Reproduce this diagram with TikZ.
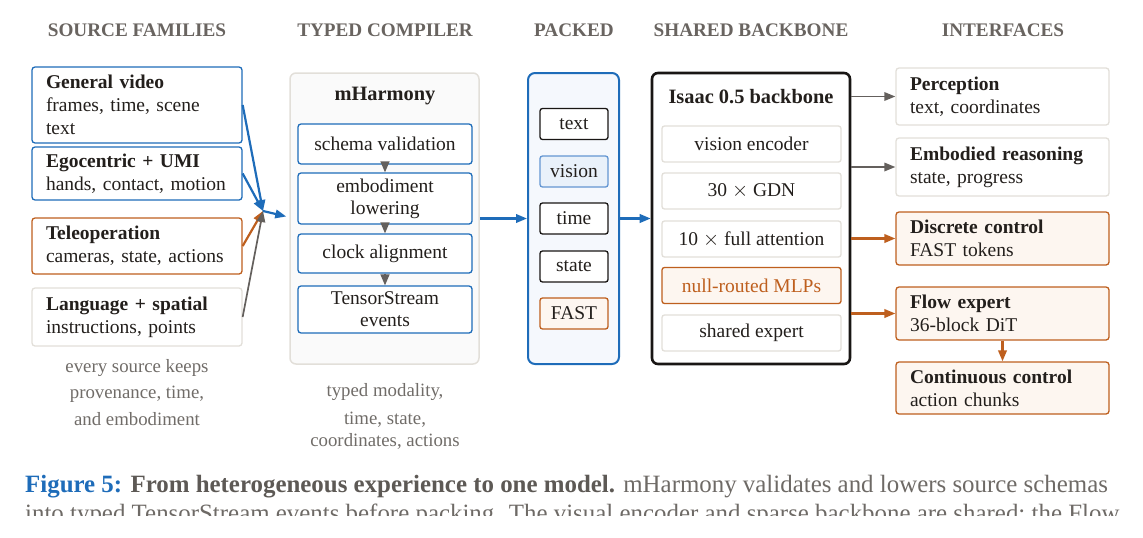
\documentclass[tikz,border=0pt]{standalone}
\usepackage{fontspec}
\setmainfont{Liberation Serif}
\usetikzlibrary{arrows.meta}

\definecolor{cblue}{RGB}{30,108,185}
\definecolor{corange}{RGB}{190,95,30}
\definecolor{carrow}{RGB}{100,96,93}
\definecolor{chead}{RGB}{105,100,96}
\definecolor{cnote}{RGB}{112,108,104}
\definecolor{clight}{RGB}{226,223,217}
\definecolor{ctext}{RGB}{35,31,28}
\definecolor{cofill}{RGB}{253,246,240}
\definecolor{cpfill}{RGB}{245,248,253}
\definecolor{cvfill}{RGB}{233,241,250}
\definecolor{cvdraw}{RGB}{100,150,210}
\definecolor{ccfill}{RGB}{250,250,250}
\definecolor{cblack}{RGB}{25,22,20}
\definecolor{ccapb}{RGB}{93,89,85}
\definecolor{ccap}{RGB}{110,106,102}

\newcommand\bxfont{\fontsize{19.5}{23}\selectfont}
\newcommand\ttlfont{\fontsize{20.4}{23}\selectfont\bfseries}
\newcommand\hdfont{\fontsize{19.2}{22}\selectfont\bfseries}
\newcommand\ntfont{\fontsize{18.8}{26.5}\selectfont}
\newcommand\capfont{\fontsize{24.9}{29}\selectfont}

\begin{document}
\begin{tikzpicture}[x=1pt,y=-1pt,
  box/.style={draw, rounded corners=3pt, line width=1.3pt, fill=white, inner sep=0pt, text=ctext, font=\bxfont},
  src/.style={box, text width=182pt, align=left, inner xsep=14pt},
  iface/.style={box, text width=185pt, align=left, inner xsep=14pt},
  comp/.style={box, draw=cblue, minimum width=174pt, align=center},
  tok/.style={box, minimum width=68pt, minimum height=31pt, rounded corners=2.5pt},
  bbl/.style={box, draw=clight, minimum width=179pt, minimum height=36pt, rounded corners=2.5pt},
  head/.style={text=chead, font=\hdfont, inner sep=0pt},
  note/.style={text=cnote, font=\ntfont, inner sep=0pt, align=center},
  arr/.style={line width=2.2pt, -{Triangle[length=11pt,width=8.5pt]}},
  garr/.style={arr, draw=carrow, line width=1.7pt},
  sarr/.style={line width=1.3pt, draw=carrow, -{Triangle[length=11pt,width=9pt]}}
]
\useasboundingbox (0,0) rectangle (1143,538);

% headers
\node[head] (h1) at (137,30) {SOURCE FAMILIES};
\node[head] (h2) at (385,30) {TYPED COMPILER};
\node[head] (h3) at (574,30) {PACKED};
\node[head] (h4) at (751,30) {SHARED BACKBONE};
\node[head] (h5) at (1003,30) {INTERFACES};

% source families
\node[src, draw=cblue, minimum height=76pt] (gv) at (137,105) {\textbf{General video}\\frames, time, scene\\text};
\node[src, draw=cblue, minimum height=53pt] (ego) at (137,173.5) {\textbf{Egocentric + UMI}\\hands, contact, motion};
\node[src, draw=corange, fill=white, minimum height=56pt] (tele) at (137,246) {\textbf{Teleoperation}\\cameras, state, actions};
\node[src, draw=clight, minimum height=58pt] (lang) at (137,317) {\textbf{Language + spatial}\\instructions, points};
\node[note] (n1) at (137,392.5) {every source keeps\\provenance, time,\\and embodiment};

\coordinate (conv) at (263,211);

% compiler
\node[box, draw=clight, fill=ccfill, line width=1.5pt, rounded corners=6pt, minimum width=189pt, minimum height=291pt] (cmp) at (384.5,218.5) {};
\node[font=\ttlfont, text=ctext, inner sep=0pt] (mh) at (385,96) {mHarmony};
\node[comp, minimum height=40pt] (c1) at (385,144) {schema validation};
\node[comp, minimum height=51pt, font=\fontsize{19.5}{22}\selectfont] (c2) at (385,198.5) {embodiment\\lowering};
\node[comp, minimum height=39pt] (c3) at (385,253.5) {clock alignment};
\node[comp, minimum height=47pt, font=\fontsize{19.5}{22}\selectfont] (c4) at (385,309.5) {TensorStream\\events};
\draw[sarr] (c1.south) -- (c2.north);
\draw[sarr] (c2.south) -- (c3.north);
\draw[sarr] (c3.south) -- (c4.north);
\node[note] (n2a) at (385,392) {typed modality,};
\node[note, font=\fontsize{18.8}{21.5}\selectfont] (n2b) at (385,430.5) {time, state,\\coordinates, actions};

% packed
\node[box, draw=cblue, fill=cpfill, line width=2pt, rounded corners=7pt, minimum width=91pt, minimum height=291pt] (pk) at (573.5,218.5) {};
\node[tok, draw=cblack] (t1) at (574,124) {text};
\node[tok, draw=cvdraw, fill=cvfill] (t2) at (574,171.5) {vision};
\node[tok, draw=cblack] (t3) at (574,218.5) {time};
\node[tok, draw=cblack] (t4) at (574,266.5) {state};
\node[tok, draw=corange, fill=cofill] (t5) at (574,313.5) {FAST};

% backbone
\node[box, draw=cblack, line width=2.6pt, rounded corners=6pt, minimum width=198pt, minimum height=291pt] (bb) at (751,218.5) {};
\node[font=\ttlfont, text=ctext, inner sep=0pt] (bbt) at (751,97) {Isaac 0.5 backbone};
\node[bbl] (b1) at (751.5,144) {vision encoder};
\node[bbl] (b2) at (751.5,191) {30 $\times$ GDN};
\node[bbl] (b3) at (751.5,239) {10 $\times$ full attention};
\node[bbl, draw=corange, fill=cofill, text=corange] (b4) at (751.5,285.5) {null-routed MLPs};
\node[bbl] (b5) at (751.5,333) {shared expert};

% interfaces
\node[iface, draw=clight, minimum height=57pt] (i1) at (1002.5,96.5) {\textbf{Perception}\\text, coordinates};
\node[iface, draw=clight, minimum height=58pt] (i2) at (1002.5,167) {\textbf{Embodied reasoning}\\state, progress};
\node[iface, draw=corange, fill=cofill, minimum height=53pt] (i3) at (1002.5,238.5) {\textbf{Discrete control}\\FAST tokens};
\node[iface, draw=corange, fill=cofill, minimum height=53pt] (i4) at (1002.5,313.5) {\textbf{Flow expert}\\36-block DiT};
\node[iface, draw=corange, fill=cofill, minimum height=52pt] (i5) at (1002.5,388) {\textbf{Continuous control}\\action chunks};

% connectors
\draw[arr, draw=cblue] (gv.east) -- (conv);
\draw[arr, draw=cblue] (ego.east) -- (conv);
\draw[arr, draw=corange] (tele.east) -- (conv);
\draw[garr] (lang.east) -- (conv);
\draw[arr, draw=cblue] (conv) -- ([xshift=-3pt,yshift=2pt]cmp.west);
\draw[arr, draw=cblue] (cmp.east) -- (pk.west);
\draw[arr, draw=cblue] (pk.east) -- (bb.west);
\draw[garr] (bb.east |- i1.west) -- (i1.west);
\draw[garr] (bb.east |- i2.west) -- (i2.west);
\draw[arr, draw=corange] (bb.east |- i3.west) -- (i3.west);
\draw[arr, draw=corange] (bb.east |- i4.west) -- (i4.west);
\draw[arr, draw=corange] (i4.south) -- (i5.north);

% caption
\begin{scope}
\clip (0,0) rectangle (1143,515);
\node[anchor=base west, inner sep=0pt, font=\capfont, text=ccap] (cap1) at (25,492) {\textcolor{cblue}{\bfseries Figure 5:} \textcolor{ccapb}{\bfseries From heterogeneous experience to one model.} mHarmony validates and lowers source schemas};
\node[anchor=base west, inner sep=0pt, font=\capfont, text=ccap] (cap2) at (25,521) {into typed TensorStream events before packing. The visual encoder and sparse backbone are shared; the Flow};
\end{scope}
\end{tikzpicture}
\end{document}
